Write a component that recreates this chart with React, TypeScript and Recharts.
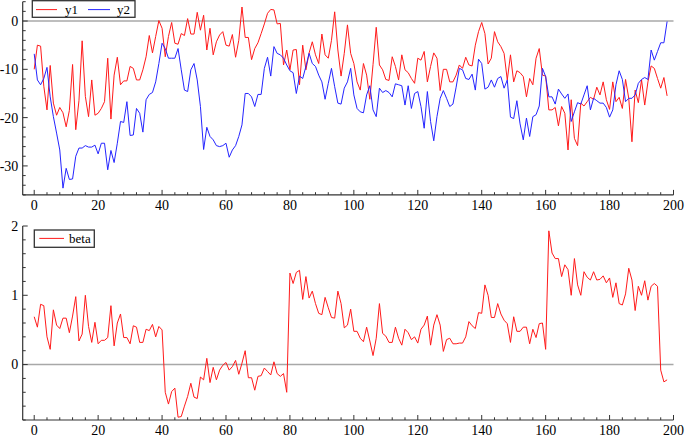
import React from 'react';
import { LineChart, Line, XAxis, YAxis, ReferenceLine } from 'recharts';

// ---- data ----
const y1 = [
  -10, -5, -5.2, -13.5, -18.4, -9.2, -17, -19.5, -17.9, -19,
  -21.9, -18.5, -9, -22.5, -16.5, -4.1, -15.6, -19.8, -12.2, -19.5,
  -19.1, -18.1, -16.7, -7.7, -20.3, -11.2, -7.5, -13.2, -12.4, -12.4,
  -9.4, -9.8, -12.2, -12.2, -10.1, -7.4, -3, -6.6, -3.2, 0.1,
  -1.5, -7.4, -3.2, -0.3, -4.6, -4.8, -2.6, -3, 0.5, -2.7,
  -2.7, 1.8, -1.9, 1.2, -6, -1.5, -7, -4.3, -2.9, -2.2,
  -5, -5.2, -2.8, -7.5, -4, 2.9, -3.4, -3.4, -8, -5.7,
  -4.5, -2.6, -0.6, 1.6, 2.4, 2.3, -0.6, -0.5, -9.1, -6,
  -10.1, -6, -5.9, -13.2, -5, -10.1, -6.6, -4.3, -7, -8.8,
  -2.7, -7, -7.7, -4, 1.9, -6, -11.4, -6.7, -0.8, -6.7,
  -8.8, -12.6, -14.3, -8.8, -11.2, -16.2, -9, -1.3, -9.1, -10.1,
  -12.1, -12.3, -7.4, -9.4, -12.2, -7, -10.1, -10.7, -11.9, -12.9,
  -7.7, -8.1, -6.3, -12.6, -9.4, -6.6, -7.7, -14.4, -10, -10,
  -12.6, -12.6, -11.2, -9.1, -9.8, -7.5, -9.1, -9.3, -5, -2.2,
  -0.3, -2.6, -8.9, -7.7, -2.2, -4.3, -5.3, -6.7, -12.2, -7,
  -12.6, -10.3, -10.7, -11.5, -15.7, -11.9, -13.2, -7.7, -5.7, -11.2,
  -11.4, -18.4, -18.4, -17.9, -21.7, -17.7, -19.1, -26.7, -16.3, -24.3,
  -25.8, -17, -17.6, -16.7, -15.8, -16.2, -13.7, -15.3, -12.6, -16.3,
  -18.3, -12.6, -16.7, -15.8, -18.1, -12.1, -16, -25, -14.3, -16.9,
  -12.2, -17.4, -12.6, -9.3, -9.8, -11.9, -13.9, -11.7, -15.5,
];

const y2 = [
  -6.8, -12.2, -13.2, -11.9, -9.6, -15.7, -19.8, -23.2, -26.7, -34.6,
  -30.5, -32.8, -32.7, -28, -26.3, -26.3, -25.8, -26.1, -26.1, -25.7,
  -27.5, -25.3, -25.3, -30.8, -26.8, -29.3, -25.3, -20.8, -21, -16.7,
  -23.7, -23.6, -18.1, -19.1, -23, -16.3, -15.2, -14.8, -12.6, -8.8,
  -4.6, -5.7, -7.7, -7.7, -7.7, -5.7, -10.1, -14.3, -14.6, -10.1,
  -8.8, -12.2, -17.7, -26.6, -22, -23.9, -24.6, -25.8, -26, -25.8,
  -25.3, -28.2, -26.7, -25.8, -23.9, -21.5, -15, -15, -15.7, -17.7,
  -15.2, -15.2, -9.8, -7.5, -11.4, -5.3, -6.7, -7, -7.7, -9.1,
  -10.3, -10.7, -15, -11.4, -11.9, -9.4, -6.7, -8.8, -9.4, -11.2,
  -12.6, -16.2, -12.9, -9.8, -13.6, -17, -17.2, -13.9, -12.6, -9.8,
  -15.3, -18.1, -18.8, -19, -15.3, -13.4, -18.4, -19.8, -13.9, -14.8,
  -14.4, -14.8, -15.7, -13, -13.2, -13.4, -17.4, -13.4, -18.1, -15,
  -14.6, -17.7, -22.2, -14.6, -20.8, -24.8, -19.8, -16, -14.4, -16,
  -17.7, -17.2, -13.7, -9.8, -10.1, -11.9, -12.1, -11, -14.3, -7.9,
  -8.8, -14.1, -13.7, -12.2, -13.7, -11.9, -11.5, -13.9, -12.2, -19.9,
  -20.2, -16.5, -21.3, -24.6, -20.1, -23.9, -19.8, -19.4, -17.6, -9.8,
  -11.5, -15.7, -15.7, -17.2, -14.1, -15.1, -16, -15.1, -20.8, -18.8,
  -16.9, -17.2, -15.3, -13.4, -18.4, -16, -16.5, -17, -17, -17.9,
  -19.9, -18.4, -13.2, -10.3, -12.1, -16.7, -16, -16, -15.3, -12.9,
  -12.1, -11.7, -12.1, -6, -8.1, -6.3, -4.5, -4.5, -0.1,
];

const beta = [
  0.69, 0.54, 0.87, 0.85, 0.4, 0.22, 0.79, 0.57, 0.52, 0.67,
  0.67, 0.46, 0.7, 0.98, 0.34, 0.44, 1.0, 0.55, 0.32, 0.61,
  0.3, 0.35, 0.35, 0.39, 0.85, 0.27, 0.6, 0.73, 0.39, 0.39,
  0.3, 0.56, 0.54, 0.32, 0.32, 0.51, 0.49, 0.58, 0.4, 0.55,
  0.5, -0.4, -0.57, -0.39, -0.34, -0.76, -0.75, -0.6, -0.46, -0.27,
  -0.47, -0.49, -0.18, -0.22, 0.09, -0.26, -0.04, -0.22, -0.08, -0.01,
  0.03, -0.08, -0.03, 0.06, -0.14, 0.02, 0.2, -0.19, -0.19, -0.37,
  -0.17, -0.16, -0.05, -0.1, -0.15, 0.04, -0.13, -0.17, -0.13, -0.4,
  1.32, 1.17, 1.33, 1.36, 0.94, 1.27, 0.96, 1.06, 0.88, 0.74,
  0.72, 0.97, 0.82, 0.68, 0.67, 1.06, 0.88, 0.53, 0.57, 0.8,
  0.48, 0.48, 0.38, 0.33, 0.54, 0.34, 0.13, 0.38, 0.88, 0.45,
  0.41, 0.32, 0.32, 0.54, 0.38, 0.28, 0.51, 0.46, 0.36, 0.4,
  0.31, 0.51, 0.57, 0.7, 0.28, 0.57, 0.72, 0.57, 0.19, 0.36,
  0.38, 0.3, 0.3, 0.31, 0.31, 0.4, 0.62, 0.56, 0.52, 0.75,
  0.74, 1.15, 1.0, 0.68, 0.68, 0.88, 0.73, 0.64, 0.59, 0.32,
  0.69, 0.48, 0.48, 0.54, 0.54, 0.3, 0.51, 0.39, 0.59, 0.6,
  0.22, 1.93, 1.61, 1.53, 1.53, 1.27, 1.44, 1.37, 1.0, 1.53,
  1.15, 1.0, 1.34, 1.26, 1.22, 1.34, 1.22, 1.23, 1.28, 1.18,
  1.25, 0.97, 1.18, 0.88, 0.86, 1.02, 1.39, 1.22, 0.78, 1.13,
  1.0, 1.21, 0.93, 1.13, 1.17, 1.13, -0.08, -0.25, -0.22,
];

// ---- ticks ----
const xTicks = [
  0, 4, 8, 12, 16, 20, 24, 28, 32, 36, 40, 44, 48, 52, 56, 60, 64, 68, 72, 76,
  80, 84, 88, 92, 96, 100, 104, 108, 112, 116, 120, 124, 128, 132, 136, 140,
  144, 148, 152, 156, 160, 164, 168, 172, 176, 180, 184, 188, 192, 196, 200,
];
const xLabels = [0, 20, 40, 60, 80, 100, 120, 140, 160, 180, 200];
const topYTicks = [
  -36, -34, -32, -30, -28, -26, -24, -22, -20, -18, -16, -14, -12, -10,
  -8, -6, -4, -2, 0, 2, 4,
];
const topYLabels = [-30, -20, -10, 0];
const botYTicks = [-0.8, -0.6, -0.4, -0.2, 0, 0.2, 0.4, 0.6, 0.8, 1, 1.2, 1.4, 1.6, 1.8, 2];
const botYLabels = [0, 1, 2];

const topData = y1.map((v, i) => ({ x: i, y1: v, y2: y2[i] }));
const botData = beta.map((v, i) => ({ x: i, beta: v }));

const FONT = "'Liberation Serif', 'Times New Roman', 'DejaVu Serif', serif";
const AXIS = '#333';
const RED = '#ff1a1a';
const BLUE = '#2424ff';
const textStyle = { fontFamily: FONT };

const isIn = (arr: number[], v: number) => arr.some((l) => Math.abs(l - v) < 1e-6);

const makeXTick = (labels: number[]) => (props: any) => {
  const { x, y, payload } = props;
  const v = payload.value;
  const major = isIn(labels, v);
  return (
    <g>
      <line x1={x} y1={y} x2={x} y2={y - (major ? 5 : 2.7)} stroke={AXIS} strokeWidth={1} />
      {major && (
        <text x={x} y={y + 14.6} textAnchor="middle" style={textStyle} fontSize={14} fill="#000">
          {String(v)}
        </text>
      )}
    </g>
  );
};

const makeYTick = (labels: number[]) => (props: any) => {
  const { x, y, payload } = props;
  const v = payload.value;
  const major = isIn(labels, v);
  return (
    <g>
      <line x1={x} y1={y} x2={x + (major ? 5 : 3)} y2={y} stroke={AXIS} strokeWidth={1} />
      {major && (
        <text x={x - 4.4} y={y} dy="0.35em" textAnchor="end" style={textStyle} fontSize={14} fill="#000">
          {String(Math.round(v))}
        </text>
      )}
    </g>
  );
};

const W = 685;
const LEFT = 22.7;
const RIGHT = 11.5;

export default function App() {
  return (
    <div style={{ position: 'absolute', left: 0, top: 0, width: W, height: 439, background: '#fff', fontFamily: FONT }}>
      <div style={{ position: 'absolute', left: 0, top: 0 }}>
        <LineChart width={W} height={215} data={topData} margin={{ top: 1.7, right: RIGHT, bottom: 0, left: 0 }}>
          <XAxis
            dataKey="x"
            type="number"
            domain={[-3.6, 200]}
            allowDataOverflow
            ticks={xTicks}
            interval={0}
            tickSize={0}
            tickMargin={0}
            tickLine={false}
            height={20.1}
            axisLine={{ stroke: AXIS, strokeWidth: 1.2 }}
            tick={makeXTick(xLabels)}
          />
          <YAxis
            type="number"
            domain={[-36, 4]}
            allowDataOverflow
            ticks={topYTicks}
            interval={0}
            tickSize={0}
            tickMargin={0}
            tickLine={false}
            width={LEFT}
            axisLine={{ stroke: AXIS, strokeWidth: 1.2 }}
            tick={makeYTick(topYLabels)}
          />
          <ReferenceLine y={0} stroke="#a8a8a8" strokeWidth={1.5} />
          <Line dataKey="y1" stroke={RED} strokeWidth={1} dot={false} isAnimationActive={false} type="linear" />
          <Line dataKey="y2" stroke={BLUE} strokeWidth={1} dot={false} isAnimationActive={false} type="linear" />
        </LineChart>
      </div>
      <div style={{ position: 'absolute', left: 0, top: 215 }}>
        <LineChart width={W} height={224} data={botData} margin={{ top: 11, right: RIGHT, bottom: 0, left: 0 }}>
          <XAxis
            dataKey="x"
            type="number"
            domain={[-3.6, 200]}
            allowDataOverflow
            ticks={xTicks}
            interval={0}
            tickSize={0}
            tickMargin={0}
            tickLine={false}
            height={19}
            axisLine={{ stroke: AXIS, strokeWidth: 1.2 }}
            tick={makeXTick(xLabels)}
          />
          <YAxis
            type="number"
            domain={[-0.8, 2]}
            allowDataOverflow
            ticks={botYTicks}
            interval={0}
            tickSize={0}
            tickMargin={0}
            tickLine={false}
            width={LEFT}
            axisLine={{ stroke: AXIS, strokeWidth: 1.2 }}
            tick={makeYTick(botYLabels)}
          />
          <ReferenceLine y={0} stroke="#a8a8a8" strokeWidth={1.5} />
          <Line dataKey="beta" stroke={RED} strokeWidth={1} dot={false} isAnimationActive={false} type="linear" />
        </LineChart>
      </div>
      {/* legends */}
      <svg width={W} height={439} style={{ position: 'absolute', left: 0, top: 0, pointerEvents: 'none' }}>
        <rect x={32.3} y={0.7} width={102.7} height={16.6} fill="#fff" stroke={AXIS} strokeWidth={1.3} />
        <line x1={36} y1={9.6} x2={57} y2={9.6} stroke={RED} strokeWidth={1} />
        <text x={65} y={14} style={textStyle} fontSize={13} fill="#000">y1</text>
        <line x1={88} y1={9.6} x2={110} y2={9.6} stroke={BLUE} strokeWidth={1} />
        <text x={117} y={14} style={textStyle} fontSize={13} fill="#000">y2</text>

        <rect x={34.3} y={230} width={60} height={17.3} fill="#fff" stroke={AXIS} strokeWidth={1.3} />
        <line x1={39.3} y1={238.4} x2={64} y2={238.4} stroke={RED} strokeWidth={1} />
        <text x={69} y={243} style={textStyle} fontSize={13} fill="#000">beta</text>
      </svg>
    </div>
  );
}
